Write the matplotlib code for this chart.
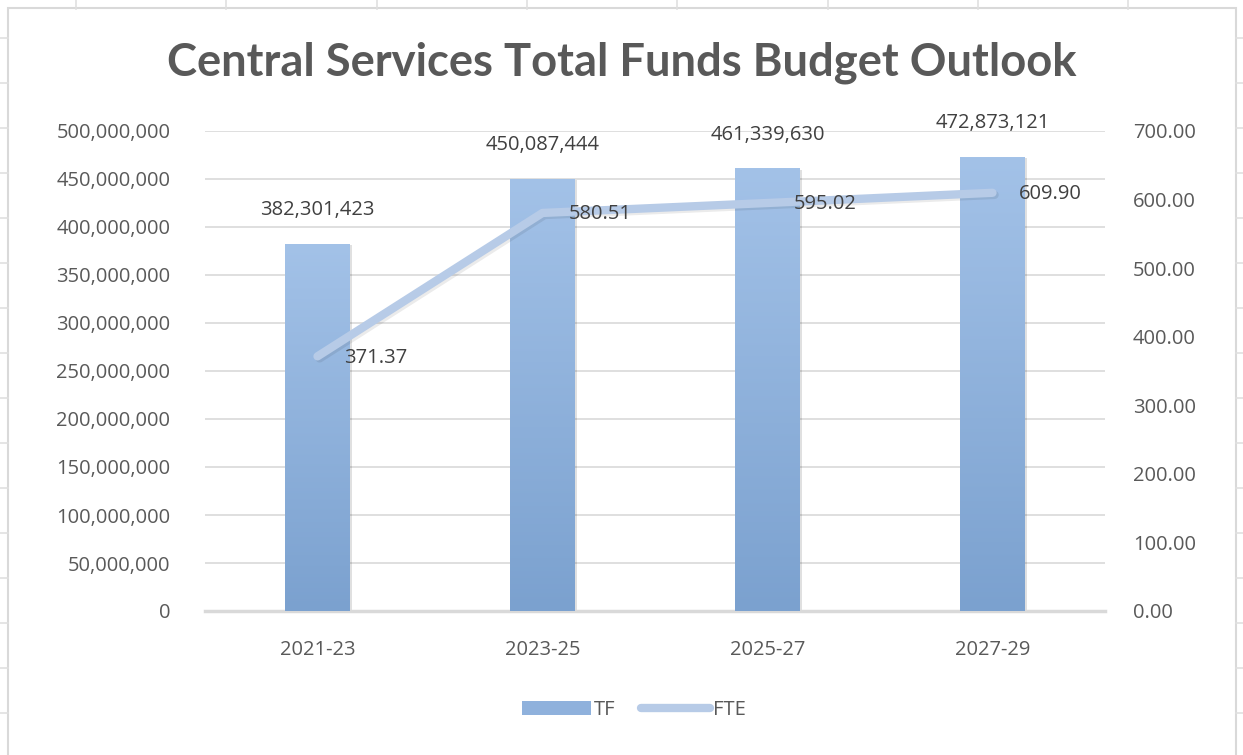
import numpy as np
import matplotlib
matplotlib.use("Agg")
import matplotlib.pyplot as plt
import matplotlib.patheffects as pe
from matplotlib.lines import Line2D
from matplotlib.patches import Patch
from matplotlib.ticker import FuncFormatter, MultipleLocator

# ── data ──────────────────────────────────────────────────────────────────────
periods = ["2021-23", "2023-25", "2025-27", "2027-29"]
tf_values = [382301423, 450087444, 461339630, 472873121]
fte_values = [371.37, 580.51, 595.02, 609.90]

# ── style ─────────────────────────────────────────────────────────────────────
TEXT = "#595959"
LABEL = "#404040"
GRID = "#d9d9d9"
BAR_TOP = "#a3c2e8"
BAR_BOT = "#7ba1cf"
LINE = "#b7cbe7"
FS = 14.5
plt.rcParams["font.family"] = ["Open Sans", "DejaVu Sans"]

fig = plt.figure(figsize=(12.43, 7.55), dpi=100)
W, H = 1243, 755

# spreadsheet cell lines behind the chart
for x in np.arange(76, W, 150.3):
    fig.add_artist(Line2D([x / W, x / W], [1, 1 - 9 / H], color="#e0e0e0", lw=1.2))
for y in np.arange(38, H, 45):
    fig.add_artist(Line2D([0, 8 / W], [1 - y / H, 1 - y / H], color="#e0e0e0", lw=1.2))
    fig.add_artist(Line2D([1236 / W, 1], [1 - y / H, 1 - y / H], color="#e0e0e0", lw=1.2))
# chart area border
fig.add_artist(plt.Rectangle((8 / W, -0.01), 1228 / W, 1 - 8 / H + 0.01,
                             fill=False, ec="#d9d9d9", lw=1.5))

ax = fig.add_axes([205 / W, 1 - 611 / H, 900 / W, 480 / H])
x = np.arange(len(periods))
width = 0.285

bars = ax.bar(x, tf_values, width=width, color=BAR_BOT, zorder=2,
              path_effects=[pe.withSimplePatchShadow(offset=(2, -1), shadow_rgbFace="#000000",
                                                     alpha=0.12)])
# vertical gradient on each bar
grad = np.linspace(0, 1, 256).reshape(-1, 1)
cmap = matplotlib.colors.LinearSegmentedColormap.from_list("bar", [BAR_BOT, BAR_TOP])
for b in bars:
    im = ax.imshow(grad, cmap=cmap, origin="lower", aspect="auto", zorder=3,
                   extent=[b.get_x(), b.get_x() + b.get_width(), 0, b.get_height()])
    im.set_clip_path(b)

for xi, v in zip(x, tf_values):
    ax.annotate(f"{v:,}", (xi, v), xytext=(0, 17), textcoords="offset points",
                ha="center", va="bottom", fontsize=FS, color=LABEL, zorder=5)

ax.set_xlim(-0.5, len(periods) - 0.5)
ax.set_ylim(0, 500000000)
ax.yaxis.set_major_locator(MultipleLocator(50000000))
ax.yaxis.set_major_formatter(FuncFormatter(lambda v, p: f"{v:,.0f}"))
ax.grid(axis="y", color=GRID, lw=1.2, zorder=0)
ax.set_axisbelow(True)
ax.set_xticks(x)
ax.set_xticklabels(periods)
for s in ["top", "right", "left"]:
    ax.spines[s].set_visible(False)
ax.spines["bottom"].set_color(GRID)
ax.spines["bottom"].set_linewidth(2.5)
ax.tick_params(axis="both", length=0, colors=TEXT, labelsize=FS)
ax.tick_params(axis="x", pad=21)
ax.tick_params(axis="y", pad=25)

# FTE on the secondary axis
ax2 = ax.twinx()
ax2.plot(x, fte_values, color=LINE, lw=6, solid_capstyle="round", solid_joinstyle="round",
         zorder=4, path_effects=[pe.SimpleLineShadow(offset=(1.5, -1.5), shadow_color="#000000",
                                                     alpha=0.08), pe.Normal()])
for xi, v in zip(x, fte_values):
    ax2.annotate(f"{v:.2f}", (xi, v), xytext=(19, -1), textcoords="offset points",
                 ha="left", va="center", fontsize=FS, color=LABEL, zorder=5)
ax2.set_ylim(0, 700)
ax2.yaxis.set_major_locator(MultipleLocator(100))
ax2.yaxis.set_major_formatter(FuncFormatter(lambda v, p: f"{v:.2f}"))
for s in ["top", "right", "left", "bottom"]:
    ax2.spines[s].set_visible(False)
ax2.tick_params(axis="y", length=0, colors=TEXT, labelsize=FS, pad=20)

fig.text(0.5, 1 - 63 / H, "Central Services Total Funds Budget Outlook", ha="center",
         va="center", fontsize=32.7, fontweight="bold", color=TEXT, family=["Lato", "DejaVu Sans"])

handles = [Patch(facecolor="#8fb1dc", edgecolor="none"),
           Line2D([0], [0], color=LINE, lw=6, solid_capstyle="round")]
fig.legend(handles, ["TF", "FTE"], loc="center", bbox_to_anchor=(634 / W, 1 - 710 / H),
           ncol=2, frameon=False, fontsize=FS, labelcolor=TEXT, handlelength=3.4,
           handletextpad=0.15, columnspacing=1.3)

fig.savefig("out.png", dpi=100, facecolor="white")
